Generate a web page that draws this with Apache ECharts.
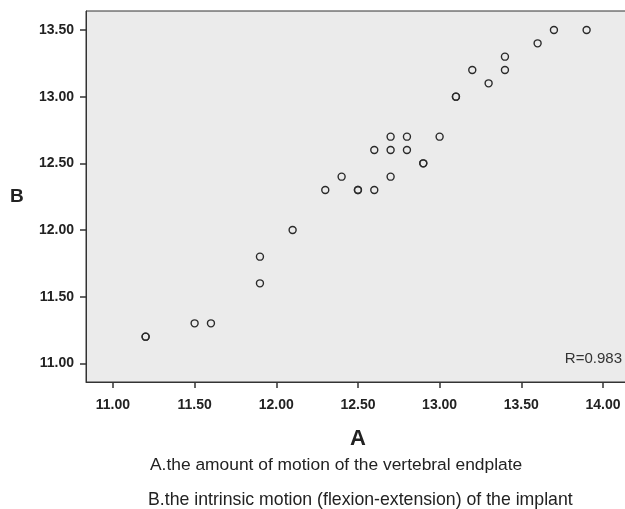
<!DOCTYPE html>
<html>
<head>
<meta charset="utf-8">
<script src="https://cdn.jsdelivr.net/npm/echarts@6/dist/echarts.min.js"></script>
<style>
  html, body { margin: 0; padding: 0; background: #fff; }
  #chart { width: 625px; height: 509px; }
</style>
</head>
<body>
<div id="chart"></div>
<script>
"use strict";

// Data (A = endplate motion, B = implant motion)
const aValues = [13.7, 13.9, 13.6, 13.4, 13.4, 13.2, 13.3, 13.1, 13.1,
  12.7, 12.8, 13.0, 12.6, 12.7, 12.8, 12.9, 12.9, 12.4, 12.7,
  12.3, 12.5, 12.5, 12.6, 12.1, 11.9, 11.9, 11.5, 11.6, 11.2, 11.2];
const bValues = [13.5, 13.5, 13.4, 13.3, 13.2, 13.2, 13.1, 13.0, 13.0,
  12.7, 12.7, 12.7, 12.6, 12.6, 12.6, 12.5, 12.5, 12.4, 12.4,
  12.3, 12.3, 12.3, 12.3, 12.0, 11.8, 11.6, 11.3, 11.3, 11.2, 11.2];

const xTicks = [11.0, 11.5, 12.0, 12.5, 13.0, 13.5, 14.0];
const yTicks = [11.0, 11.5, 12.0, 12.5, 13.0, 13.5];

const rText = "R=0.983";
const xName = "A";
const yName = "B";
const captionA = "A.the amount of motion of the vertebral endplate";
const captionB = "B.the intrinsic motion (flexion-extension) of the implant";

const FONT = "Arial, 'Liberation Sans', sans-serif";
const INK = "#222";

const points = aValues.map((a, i) => [a, bValues[i]]);

const chart = echarts.init(document.getElementById("chart"));
chart.setOption({
  animation: false,
  textStyle: { fontFamily: FONT },
  // right edge of the plot box runs off the picture, like the original
  grid: {
    left: 86, top: 11, width: 542, height: 371,
    outerBoundsMode: "none",
    show: true, backgroundColor: "#ebebeb",
    borderColor: "#333", borderWidth: 1
  },
  xAxis: {
    type: "value", min: 10.835, max: 14.1534,
    axisLine: { show: true, lineStyle: { color: "#333", width: 1 } },
    axisTick: { show: true, length: 6, customValues: xTicks, lineStyle: { color: "#333", width: 1.5 } },
    axisLabel: {
      customValues: xTicks, margin: 16,
      color: INK, fontSize: 14, fontWeight: "bold", fontFamily: FONT,
      formatter: v => v.toFixed(2)
    },
    splitLine: { show: false }
  },
  yAxis: {
    type: "value", min: 10.86, max: 13.6425,
    axisLine: { show: true, lineStyle: { color: "#333", width: 1 } },
    axisTick: { show: true, length: 6, customValues: yTicks, lineStyle: { color: "#333", width: 1.5 } },
    axisLabel: {
      customValues: yTicks, margin: 12,
      color: INK, fontSize: 14, fontWeight: "bold", fontFamily: FONT,
      formatter: v => v.toFixed(2)
    },
    splitLine: { show: false }
  },
  series: [{
    type: "scatter",
    data: points,
    symbol: "circle",
    symbolSize: 7,
    itemStyle: { color: "rgba(0,0,0,0)", borderColor: "#2a2a2a", borderWidth: 1.4, opacity: 1 }
  }],
  graphic: [
    { type: "text", left: 10, top: 187,
      style: { text: yName, font: "bold 19px " + FONT, fill: INK } },
    { type: "text", left: 350, top: 428,
      style: { text: xName, font: "bold 22px " + FONT, fill: INK } },
    { type: "text", right: 3, top: 351,
      style: { text: rText, font: "15px " + FONT, fill: "#333" } },
    { type: "text", left: 150, top: 457,
      style: { text: captionA, font: "17.4px " + FONT, fill: INK } },
    { type: "text", left: 148, top: 491,
      style: { text: captionB, font: "17.7px " + FONT, fill: INK } }
  ]
});
</script>
</body>
</html>
